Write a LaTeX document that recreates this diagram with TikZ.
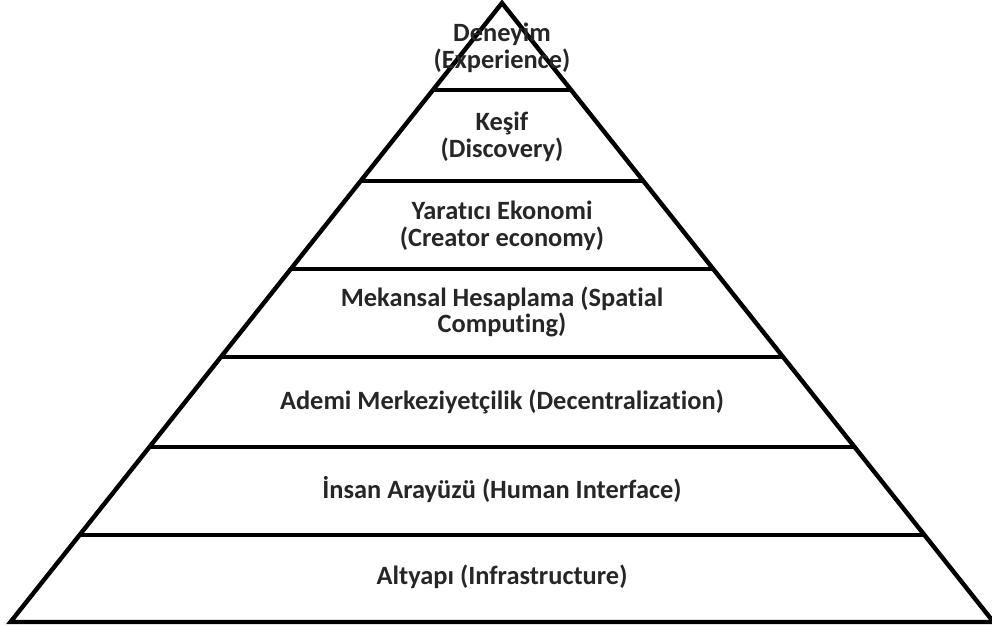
\documentclass[tikz,border=0pt]{standalone}
\usepackage{fontspec}
\setmainfont{Carlito}[Ligatures=NoCommon]
\definecolor{txt}{HTML}{262626}
\begin{document}
\begin{tikzpicture}[x=1pt,y=-1pt,
  edge/.style={line width=4.4pt,line join=miter},
  lbl/.style={align=center,text=txt,font=\fontsize{26.4}{26.5}\selectfont\bfseries,inner sep=0pt}]
\useasboundingbox (0,0) rectangle (992,626);
\pgfmathsetmacro{\k}{0.794}
\coordinate (A) at (502,3);
\coordinate (BL) at (10.5,622);
\coordinate (BR) at (993.5,622);
\foreach \y/\n in {90/1,181/2,269/3,357/4,447/5,535/6}{
  \pgfmathsetmacro{\h}{(\y-3)*\k}
  \coordinate (L\n) at ({502-\h},\y);
  \coordinate (R\n) at ({502+\h},\y);
}
\draw[edge] (A) -- (BL) -- (BR) -- cycle;
\foreach \n in {1,...,6}{ \draw[edge] (L\n) -- (R\n); }
\node[lbl] (t1) at (502,48) {Deneyim\\(Experience)};
\node[lbl] (t2) at (502,137) {Keşif\\(Discovery)};
\node[lbl] (t3) at (502,226) {Yaratıcı Ekonomi\\(Creator economy)};
\node[lbl] (t4) at (502,312) {Mekansal Hesaplama (Spatial\\Computing)};
\node[lbl] (t5) at (502,402) {Ademi Merkeziyetçilik (Decentralization)};
\node[lbl] (t6) at (502,490) {İnsan Arayüzü (Human Interface)};
\node[lbl] (t7) at (502,577) {Altyapı (Infrastructure)};
\end{tikzpicture}
\end{document}
